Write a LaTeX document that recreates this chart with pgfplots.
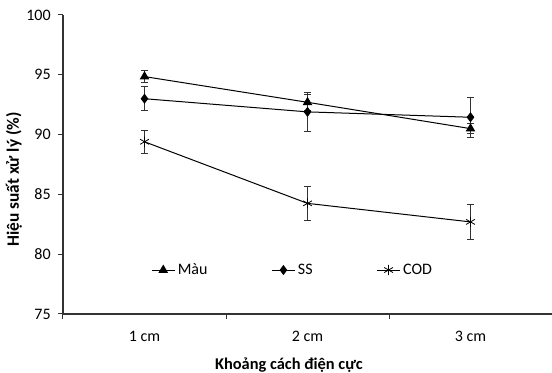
\documentclass[border=0pt]{standalone}
\usepackage{fontspec}
\setmainfont{Carlito}
\usepackage{pgfplots}
\pgfplotsset{compat=1.18}
\begin{document}
\begin{tikzpicture}
\begin{axis}[
  scale only axis,
  width=366.75pt, height=224.25pt,
  font=\fontsize{12}{14}\selectfont,
  xmin=-0.5, xmax=2.5,
  ymin=75, ymax=100,
  ytick={75,80,85,90,95,100},
  xtick={-0.5,0.5,1.5,2.5},
  xticklabels={},
  extra x ticks={0,1,2},
  extra x tick labels={1 cm,2 cm,3 cm},
  extra x tick style={major tick length=0pt, xticklabel style={yshift=-9pt}},
  yticklabel style={xshift=-2pt},
  axis x line*=bottom, axis y line*=left,
  axis line style={black!80, line width=0.9pt},
  tick align=outside,
  major tick length=3.75pt,
  tick style={black!80, line width=0.75pt},
  /pgf/number format/assume math mode=true,
  ylabel={\fontsize{13}{15}\selectfont\bfseries Hiệu suất xử lý (\%)},
  xlabel={\fontsize{12.3}{14}\selectfont\bfseries Khoảng cách điện cực},
  ylabel style={at={([xshift=-36.75pt]axis description cs:0,0.45)}, anchor=center},
  xlabel style={at={([yshift=-38.5pt]axis description cs:0.462,0)}, anchor=center},
  legend style={at={(rel axis cs:0.172,0.147)}, anchor=west, draw=none, fill=none,
    legend columns=3, /tikz/every even column/.append style={column sep=46pt},
    font=\fontsize{12}{14}\selectfont},
  legend cell align=left,
  legend image post style={line width=0.75pt},
  every axis plot/.append style={line width=0.75pt},
]
\addplot[black, mark=triangle*, mark size=3.4pt,
  error bars/.cd, y dir=both, y explicit,
  error bar style={black!80, line width=0.6pt},
  error mark options={black!80, mark size=2.6pt, rotate=90, line width=0.6pt}]
  coordinates {(0,94.85) +- (0,0.5) (1,92.7) +- (0,0.7) (2,90.5) +- (0,0.4)};
\addlegendentry{Màu}
\addplot[black, mark=diamond*, mark size=3.2pt,
  error bars/.cd, y dir=both, y explicit,
  error bar style={black!80, line width=0.6pt},
  error mark options={black!80, mark size=2.6pt, rotate=90, line width=0.6pt}]
  coordinates {(0,93.0) +- (0,1.0) (1,91.9) +- (0,1.6) (2,91.45) +- (0,1.65)};
\addlegendentry{SS}
\addplot[black, mark=asterisk, mark size=3.8pt, mark options={line width=0.6pt},
  error bars/.cd, y dir=both, y explicit,
  error bar style={black!80, line width=0.6pt},
  error mark options={black!80, mark size=2.6pt, rotate=90, line width=0.6pt}]
  coordinates {(0,89.4) +- (0,0.95) (1,84.25) +- (0,1.45) (2,82.7) +- (0,1.45)};
\addlegendentry{COD}
\coordinate (sw) at (rel axis cs:0,0);
\coordinate (ne) at (rel axis cs:1,1);
\end{axis}
\pgfresetboundingbox
\path ([shift={(-47.25pt,-44.25pt)}]sw) rectangle ([shift={(0pt,11.25pt)}]ne);
\end{tikzpicture}
\end{document}
